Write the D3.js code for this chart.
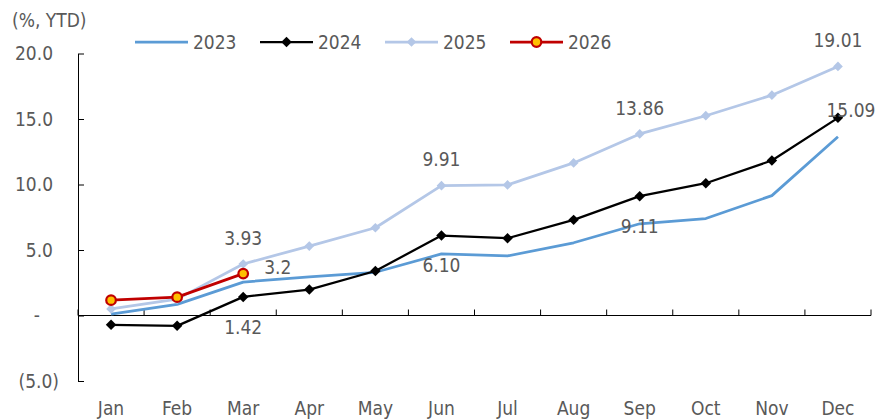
<!DOCTYPE html>
<html>
<head>
<meta charset="utf-8">
<script src="https://cdn.jsdelivr.net/npm/d3@7"></script>
<style>
  body { margin: 0; background: #fff; }
  text { font-family: "DejaVu Sans Condensed", "DejaVu Sans", sans-serif; fill: #595959; }
</style>
</head>
<body>
<div id="main"></div>
<script>
// chart data
var months = ["Jan", "Feb", "Mar", "Apr", "May", "Jun", "Jul", "Aug", "Sep", "Oct", "Nov", "Dec"];
var ytd2023 = [0.1, 0.85, 2.55, 2.95, 3.3, 4.7, 4.55, 5.55, 7.0, 7.4, 9.15, 13.65];
var ytd2024 = [-0.71, -0.79, 1.42, 1.98, 3.4, 6.10, 5.9, 7.3, 9.11, 10.1, 11.83, 15.09];
var ytd2025 = [0.5, 1.25, 3.93, 5.3, 6.7, 9.91, 9.97, 11.65, 13.86, 15.25, 16.82, 19.01];
var ytd2026 = [1.17, 1.4, 3.2];
var yTicks = [-5, 0, 5, 10, 15, 20];
var yTickLabels = ["(5.0)", "-", "5.0", "10.0", "15.0", "20.0"];
// data labels: series, month index, text, placement
var dataLabels = [
    ["2025", 2, "3.93", "above"],
    ["2025", 5, "9.91", "above"],
    ["2025", 8, "13.86", "above"],
    ["2025", 11, "19.01", "above"],
    ["2024", 2, "1.42", "below"],
    ["2024", 5, "6.10", "below"],
    ["2024", 8, "9.11", "below"],
    ["2024", 11, "15.09", "aboveRight"],
    ["2026", 2, "3.2", "right"],
];

var ctx = { w: 885, h: 420, left: 78, right: 871, top: 53.5, bottom: 381 };

var series = [
    { name: "2023", values: ytd2023, color: "#5B9BD5", width: 2.75, marker: "none", msize: 0 },
    { name: "2025", values: ytd2025, color: "#B4C7E7", width: 2.75, marker: "diamond", msize: 60 },
    { name: "2024", values: ytd2024, color: "#000000", width: 2.25, marker: "diamond", msize: 70 },
    { name: "2026", values: ytd2026, color: "#C00000", width: 2.75, marker: "circle", msize: 4.8 },
];
var legendOrder = ["2023", "2024", "2025", "2026"];

var svg = d3.select("#main").append("svg").attr("width", ctx.w).attr("height", ctx.h);

var x = d3.scaleBand().domain(months).range([ctx.left, ctx.right]).padding(0);
var y = d3.scaleLinear().domain([-5, 20]).range([ctx.bottom, ctx.top]);
var cx = function (i) { return x(months[i]) + x.bandwidth() / 2; };

// y axis
var yAxis = d3.axisLeft(y).tickValues(yTicks).tickSizeInner(-6).tickSizeOuter(0).tickPadding(25)
    .tickFormat(function (d, i) { return yTickLabels[i]; });
var gy = svg.append("g").attr("transform", "translate(" + ctx.left + ",0)").call(yAxis);
gy.selectAll("text").attr("font-size", 19).style("font-family", null)
    .attr("dx", function (d) { return d < 0 ? 6 : (d === 0 ? -13 : 0); });
gy.selectAll("line, path").attr("stroke", "#000");

// x axis at zero
var zeroY = y(0);
svg.append("line").attr("x1", ctx.left).attr("x2", ctx.right).attr("y1", zeroY).attr("y2", zeroY)
    .attr("stroke", "#000");
svg.append("g").selectAll("line").data(months.concat(["end"])).enter().append("line")
    .attr("x1", function (d) { return d === "end" ? ctx.right : x(d); })
    .attr("x2", function (d) { return d === "end" ? ctx.right : x(d); })
    .attr("y1", zeroY).attr("y2", zeroY - 6).attr("stroke", "#000");
svg.append("g").selectAll("text").data(months).enter().append("text")
    .attr("x", function (d) { return x(d) + x.bandwidth() / 2; })
    .attr("y", 408).attr("dy", "0.35em").attr("text-anchor", "middle").attr("font-size", 19)
    .text(function (d) { return d; });

// unit label
svg.append("text").attr("x", 12).attr("y", 20).attr("dy", "0.35em").attr("font-size", 19).text("(%, YTD)");

function drawMarker(g, s, px, py) {
    if (s.marker === "diamond") {
        g.append("path").attr("d", d3.symbol().type(d3.symbolDiamond2).size(s.msize)())
            .attr("transform", "translate(" + px + "," + py + ")").attr("fill", s.color);
    } else if (s.marker === "circle") {
        g.append("circle").attr("cx", px).attr("cy", py).attr("r", s.msize)
            .attr("fill", "#FFC000").attr("stroke", s.color).attr("stroke-width", 2.2);
    }
}

var line = d3.line().x(function (d, i) { return cx(i); }).y(function (d) { return y(d); });

series.forEach(function (s) {
    var g = svg.append("g");
    g.append("path").datum(s.values).attr("d", line).attr("fill", "none")
        .attr("stroke", s.color).attr("stroke-width", s.width).attr("stroke-linejoin", "round");
    s.values.forEach(function (v, i) { drawMarker(g, s, cx(i), y(v)); });
});

// data labels
var byName = {};
series.forEach(function (s) { byName[s.name] = s; });
svg.append("g").selectAll("text").data(dataLabels).enter().append("text")
    .attr("font-size", 19).attr("dy", "0.35em")
    .attr("text-anchor", function (d) { return d[3] === "right" ? "start" : "middle"; })
    .attr("x", function (d) {
        var px = cx(d[1]);
        if (d[3] === "right") return px + 21;
        if (d[3] === "aboveRight") return px + 13;
        return px;
    })
    .attr("y", function (d) {
        var py = y(byName[d[0]].values[d[1]]);
        if (d[3] === "above") return py - 26;
        if (d[3] === "below") return py + 30;
        if (d[3] === "aboveRight") return py - 7;
        return py - 6;
    })
    .text(function (d) { return d[2]; });

// legend
var leg = svg.append("g");
legendOrder.forEach(function (name, k) {
    var s = byName[name];
    var lx = 135 + k * 125, ly = 42;
    leg.append("line").attr("x1", lx).attr("x2", lx + 53).attr("y1", ly).attr("y2", ly)
        .attr("stroke", s.color).attr("stroke-width", s.width);
    drawMarker(leg, s, lx + 26.5, ly);
    leg.append("text").attr("x", lx + 58).attr("y", ly).attr("dy", "0.35em").attr("font-size", 19).text(name);
});
</script>
</body>
</html>
